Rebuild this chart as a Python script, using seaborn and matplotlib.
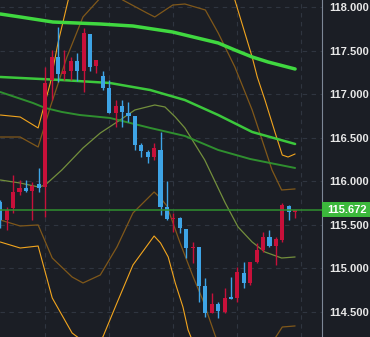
import numpy as np
import pandas as pd
import seaborn as sns
import matplotlib
matplotlib.use("Agg")
import matplotlib.pyplot as plt
import matplotlib.transforms as mtransforms
from matplotlib.patches import Rectangle

# candles (red = up, blue = down)
opens = [115.762, 115.555, 115.693, 115.877, 115.923, 115.889, 115.969, 115.934, 117.164, 117.429,
         117.233, 117.268, 117.383, 117.268, 117.693, 117.325, 117.210, 117.072, 116.785, 116.866,
         116.785, 116.751, 116.417, 116.337, 116.279, 116.360, 115.705, 115.567, 115.578, 115.452,
         115.233, 115.245, 114.797, 114.486, 114.590, 114.498, 114.670, 114.659, 114.946, 114.831,
         115.072, 115.210, 115.360, 115.256, 115.325, 115.716, 115.647]
closes = [115.555, 115.670, 115.877, 115.923, 115.889, 115.946, 115.923, 117.130, 117.429, 117.233,
          117.268, 117.383, 117.268, 117.705, 117.314, 117.394, 117.072, 116.785, 116.866, 116.797,
          116.751, 116.417, 116.348, 116.279, 116.383, 115.705, 115.567, 115.578, 115.463, 115.233,
          115.245, 114.797, 114.486, 114.590, 114.509, 114.659, 114.647, 114.957, 114.831, 115.072,
          115.210, 115.360, 115.256, 115.337, 115.728, 115.647, 115.672]
highs = [115.785, 115.705, 116.072, 116.015, 116.015, 115.992, 116.153, 117.314, 117.509, 117.774,
         117.509, 117.429, 117.475, 117.762, 117.693, 117.394, 117.268, 117.164, 116.934, 116.934,
         116.911, 116.751, 116.440, 116.360, 116.440, 116.567, 116.003, 115.636, 115.590, 115.452,
         115.302, 115.245, 114.889, 114.716, 114.613, 114.774, 114.900, 115.015, 115.072, 115.072,
         115.291, 115.417, 115.440, 115.360, 115.751, 115.728, 115.672]
lows = [115.463, 115.440, 115.636, 115.843, 115.877, 115.555, 115.877, 115.590, 116.934, 117.141,
        117.164, 117.164, 117.153, 117.026, 117.268, 117.245, 117.049, 116.785, 116.624, 116.624,
        116.682, 116.360, 116.279, 116.210, 116.245, 115.613, 115.555, 115.417, 115.406, 115.118,
        115.061, 114.613, 114.440, 114.486, 114.429, 114.486, 114.647, 114.613, 114.774, 114.808,
        115.061, 115.187, 115.245, 115.038, 115.302, 115.555, 115.578]
last_price = 115.672

# moving averages
ma_slow_x = [0, 3.1, 8.2, 15.6, 20.7, 26.9, 28.8, 34.0, 36.6, 39.3, 41.8, 46]
ma_slow_y = [117.923, 117.889, 117.831, 117.808, 117.785, 117.716, 117.682, 117.590, 117.509, 117.429, 117.371, 117.291]
ma_mid_x = [0, 9.6, 17.1, 23.4, 28.8, 34.0, 39.3, 46]
ma_mid_y = [117.199, 117.164, 117.130, 117.049, 116.934, 116.762, 116.567, 116.429]
ma_fast_x = [0, 5.1, 7.0, 9.6, 12.4, 17.1, 23.4, 28.8, 34.0, 39.0, 46]
ma_fast_y = [117.026, 116.900, 116.843, 116.797, 116.762, 116.728, 116.613, 116.521, 116.360, 116.256, 116.153]

# bollinger middle
bb_mid_x = [0, 3.1, 6.0, 7.0, 9.6, 12.9, 15.6, 18.7, 21.0, 24.1, 25.7, 27.3, 28.8, 31.9, 35.1, 37.1, 39.3, 41.3, 43.9, 46]
bb_mid_y = [116.015, 115.980, 115.934, 115.957, 116.130, 116.383, 116.555, 116.705, 116.820, 116.877,
            116.854, 116.739, 116.613, 116.245, 115.751, 115.475, 115.302, 115.187, 115.118, 115.130]
# inner bands
bb_up2_x = [0, 3.1, 5.9, 7.8, 10.4, 12.9, 15.6, 17.4, 19.1, 22.9, 24.1, 26.9, 28.8, 32.0, 34.0, 36.6, 39.3, 42.4, 43.9, 46]
bb_up2_y = [116.509, 116.509, 116.394, 116.854, 117.429, 117.889, 118.107, 118.176, 118.084, 117.934,
            117.889, 118.026, 118.038, 117.969, 117.705, 117.314, 116.820, 116.130, 115.900, 115.912]
bb_lo2_x = [0, 3.1, 5.9, 8.1, 11.2, 12.9, 15.6, 18.2, 20.7, 24.0, 25.0, 26.0, 28.0, 30.1, 31.6, 33.5,
            35.8, 38.9, 41.3, 42.9, 44.0, 46]
bb_lo2_y = [115.555, 115.486, 115.498, 115.118, 114.900, 114.831, 114.923, 115.245, 115.636, 115.877, 115.808,
            115.716, 115.302, 114.900, 114.636, 114.233, 113.808, 113.808, 113.946, 114.199, 114.325, 114.337]
# outer bands
bb_up3_x = [0, 3.1, 5.9, 7.8, 9.0, 10.6, 12.9, 15.6, 20.2, 24.1, 28.8, 32.7, 36.6, 39.3, 40.1, 41.3, 42.9, 44.0, 44.9, 46]
bb_up3_y = [116.762, 116.739, 116.613, 117.130, 117.590, 118.084, 118.544, 118.889, 118.774, 118.429,
            118.716, 118.601, 118.084, 117.429, 117.199, 116.934, 116.555, 116.302, 116.279, 116.314]
bb_lo3_x = [0, 3.1, 5.9, 8.1, 11.2, 13.7, 16.0, 18.2, 20.7, 24.0, 25.0, 26.2, 27.3, 28.5, 29.3, 31.2, 34.3, 38.9, 43.6, 46]
bb_lo3_y = [115.302, 115.233, 115.256, 114.659, 114.256, 114.118, 114.210, 114.601, 115.038, 115.371,
            115.291, 115.130, 114.831, 114.555, 114.291, 113.946, 113.256, 113.026, 113.371, 113.544]

price_ticks = [114.5, 115.0, 115.5, 116.0, 116.5, 117.0, 117.5, 118.0]
time_grid = [7, 17, 27, 37, 47]

BG = "#1b1e25"
UP = "#c8103a"
DOWN = "#3ea4e6"

sns.set_theme(style="dark", rc={"axes.facecolor": BG, "figure.facecolor": BG})
plt.rcParams['font.family'] = ['Liberation Sans', 'DejaVu Sans']

fig = plt.figure(figsize=(3.70, 3.37), dpi=100)
ax = fig.add_axes([0, 0, 322 / 370, 1])

# lines
lines = [
    (bb_up3_x, bb_up3_y, "#f2a51e", 0.8),
    (bb_lo3_x, bb_lo3_y, "#f2a51e", 0.8),
    (bb_up2_x, bb_up2_y, "#80581a", 0.9),
    (bb_lo2_x, bb_lo2_y, "#80581a", 0.9),
    (bb_mid_x, bb_mid_y, "#738f3c", 0.9),
    (ma_fast_x, ma_fast_y, "#2f8f2f", 1.4),
    (ma_mid_x, ma_mid_y, "#3cc83c", 1.8),
    (ma_slow_x, ma_slow_y, "#40d840", 2.5),
]
for xs, ys, col, lw in lines:
    sns.lineplot(x=xs, y=ys, color=col, linewidth=lw, ax=ax, zorder=2)

# candles
df = pd.DataFrame({"o": opens, "h": highs, "l": lows, "c": closes})
df["i"] = np.arange(len(df))
colors = [UP if c >= o else DOWN for o, c in zip(df.o, df.c)]
ax.vlines(df.i, df.l, df.h, colors=colors, linewidth=1.0, zorder=3)
bottoms = np.minimum(df.o, df.c)
heights = np.maximum(np.abs(df.c - df.o), 0.012)
ax.bar(df.i, heights, bottom=bottoms, width=0.64, color=colors, linewidth=0, zorder=4)

# last price line
ax.axhline(last_price, color="#2f8f2f", linewidth=1.1, zorder=5)

ax.set_xlim(-0.05, 50.2)
ax.set_ylim(114.21, 118.084)
ax.set_xticks(time_grid)
ax.set_xticklabels([])
ax.set_yticks(price_ticks)
ax.set_yticklabels([f"{t:.3f}" for t in price_ticks])
ax.yaxis.tick_right()
ax.tick_params(axis="y", length=0, pad=5, labelsize=8, labelcolor="#e8e8e8")
ax.tick_params(axis="x", length=0)
for lab in ax.get_yticklabels():
    lab.set_fontweight("bold")
ax.grid(True, color="#2f3540", linestyle=(0, (4, 4)), linewidth=0.8)
ax.set_axisbelow(True)
for s in ["left", "top", "bottom"]:
    ax.spines[s].set_visible(False)
ax.spines["right"].set_visible(True)
ax.spines["right"].set_color("#7d8796")
ax.spines["right"].set_linewidth(0.8)

# last price label
trans = mtransforms.blended_transform_factory(ax.transAxes, ax.transData)
ax.add_patch(Rectangle((1.0, last_price - 0.086), 48 / 322, 0.172, transform=trans,
                       facecolor="#3cb83c", edgecolor="none", clip_on=False, zorder=6))
ax.text(1.0 + 5 / 322, last_price, f"{last_price:.3f}", transform=trans, ha="left", va="center",
        fontsize=8, fontweight="bold", color="white", zorder=7, clip_on=False)

fig.savefig("out.png", dpi=100, facecolor=BG)
